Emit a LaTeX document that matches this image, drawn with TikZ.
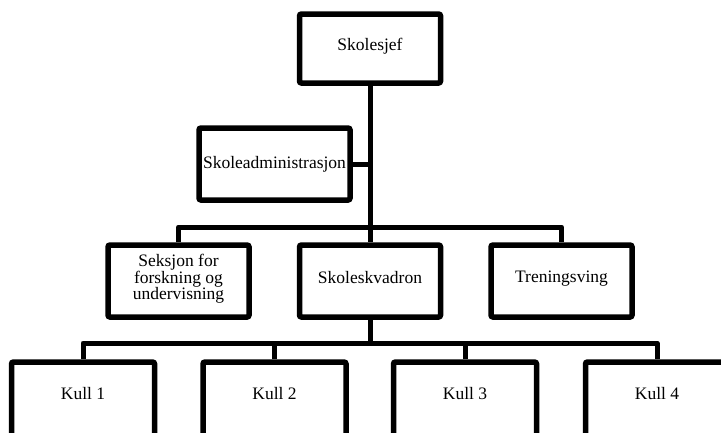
\documentclass[tikz,border=0pt]{standalone}
\usepackage{fontspec}
\setmainfont{Liberation Serif}
\begin{document}
\begin{tikzpicture}[x=1pt,y=-1pt]
\tikzset{
  orgbox/.style={draw, fill=white, line width=5.5pt, rounded corners=2pt,
    minimum width=141pt, minimum height=72pt, inner sep=0pt, align=center,
    font=\fontsize{17.5}{16}\selectfont},
  kullbox/.style={orgbox, minimum width=143pt, minimum height=75pt, text depth=13pt},
  link/.style={line width=5pt, line join=round}
}
\useasboundingbox (0,0) rectangle (721,432);
\clip (0,0) rectangle (721,432);

% connector junctions
\coordinate (bar1) at (370,227);
\coordinate (bar2) at (370,343);

% top level
\node[orgbox, minimum height=69pt, text depth=8pt] (sjef) at (370,48.5) {Skolesjef};
\node[orgbox, minimum width=151pt] (adm) at (274.5,164) {Skoleadministrasjon};

% second level
\node[orgbox, text depth=8pt] (sfu) at (178.5,281) {Seksjon for\\forskning og\\undervisning};
\node[orgbox, text depth=8pt] (skv) at (370,281) {Skoleskvadron};
\node[orgbox, text depth=8pt] (tren) at (561.5,281) {Treningsving};

% classes
\node[kullbox] (k1) at (83,399.5) {Kull 1};
\node[kullbox] (k2) at (274.5,399.5) {Kull 2};
\node[kullbox] (k3) at (465,399.5) {Kull 3};
\node[kullbox] (k4) at (657,399.5) {Kull 4};

% connectors
\draw[link] (sjef.south) -- (skv.north);
\draw[link] (adm.east) -- (adm.east -| sjef.south);
\draw[link] (sfu.north) |- (bar1) -| (tren.north);
\draw[link] (skv.south) -- (bar2);
\draw[link] (k1.north) |- (bar2) -| (k4.north);
\draw[link] (k2.north) -- (k2.north |- bar2);
\draw[link] (k3.north) -- (k3.north |- bar2);
\end{tikzpicture}
\end{document}
